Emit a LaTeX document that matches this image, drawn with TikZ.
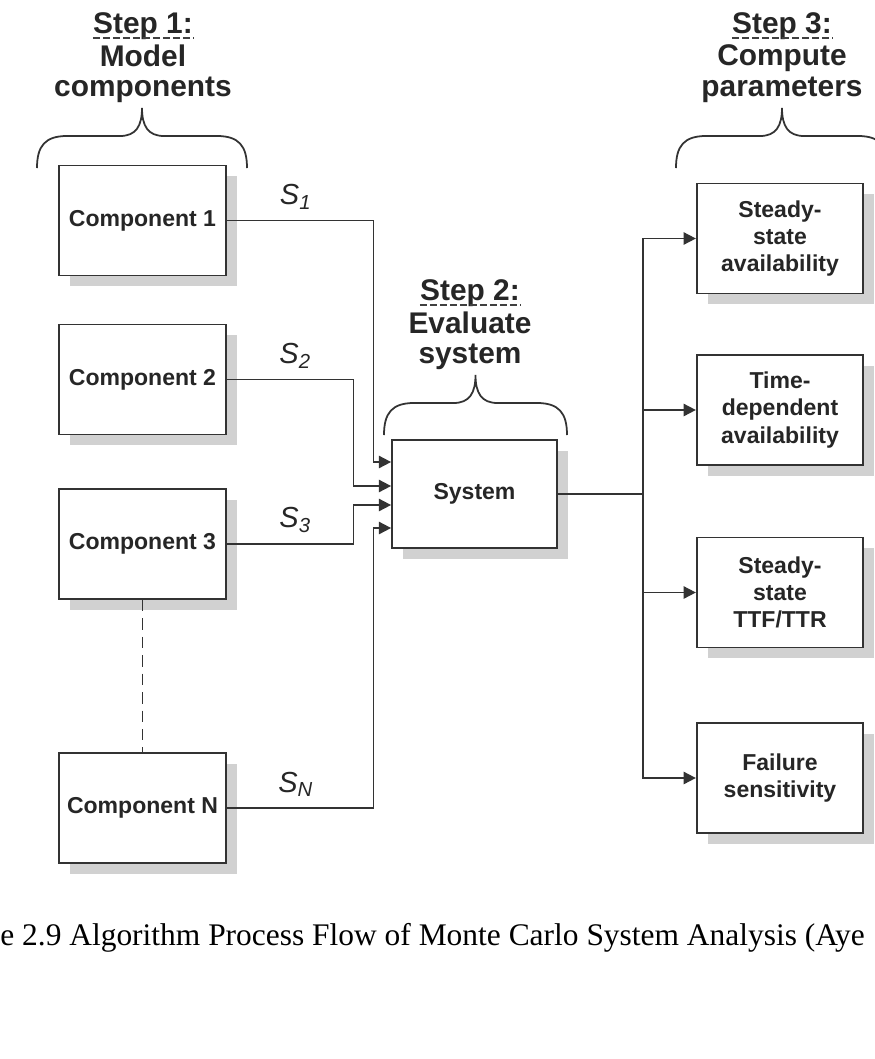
\documentclass[tikz,border=0pt]{standalone}
\usepackage{fontspec}
\setmainfont{Liberation Serif}
\setsansfont{Liberation Sans}
\usetikzlibrary{positioning, arrows.meta, shadows, calc}

% curly brace over a step: left x, right x, foot y (pixel units)
\newcommand{\stepbrace}[3]{%
  \draw[bracepath] (#1,#3) .. controls (#1,#3-22) and (#1+8,#3-32) .. (#1+30,#3-32)
    -- ({(#1+#2)/2-22},#3-32) .. controls ({(#1+#2)/2-6},#3-32) and ({(#1+#2)/2},#3-42) .. ({(#1+#2)/2},#3-60)
    .. controls ({(#1+#2)/2},#3-42) and ({(#1+#2)/2+6},#3-32) .. ({(#1+#2)/2+22},#3-32)
    -- (#2-30,#3-32) .. controls (#2-8,#3-32) and (#2,#3-22) .. (#2,#3);%
}

\begin{document}
\begin{tikzpicture}[x=0.02cm, y=-0.02cm,
    box/.style={draw=black!80, line width=1pt, fill=white, inner sep=2pt,
        minimum width=3.33cm, minimum height=2.2cm, align=center, text=black!85,
        font=\sffamily\bfseries\fontsize{13.1}{15.4}\selectfont,
        drop shadow={shadow xshift=6.2pt, shadow yshift=-6.2pt, fill=black!18, opacity=1}},
    steptitle/.style={inner sep=0pt, align=center, text=black!85,
        font=\sffamily\bfseries\fontsize{17}{17.6}\selectfont},
    uline/.style={black!75, line width=0.8pt, dash pattern=on 4pt off 1.7pt},
    bracepath/.style={black!80, line width=1pt},
    sig/.style={black!80, line width=1pt},
    arrowline/.style={sig, -{Triangle[length=7pt, width=7pt]}},
    slabel/.style={inner sep=0pt, above=6pt, text=black!85,
        font=\sffamily\itshape\fontsize{16.5}{18}\selectfont},
    dots/.style={black!80, line width=0.9pt, dash pattern=on 6.5pt off 4pt},
    caption/.style={inner sep=0pt, font=\fontsize{17.9}{20}\selectfont}]
    \path[use as bounding box, fill=white] (0,0) rectangle (875,1059);

    % Step headings
    \node[steptitle, anchor=base] (h1) at (143,33) {Step 1:};
    \node[steptitle, anchor=north] (n1) at ($(h1.base)+(0,11)$) {Model\\components};
    \node[steptitle, anchor=base] (h2) at (470,300) {Step 2:};
    \node[steptitle, anchor=north] (n2) at ($(h2.base)+(0,11)$) {Evaluate\\system};
    \node[steptitle, anchor=base] (h3) at (782,33) {Step 3:};
    \node[steptitle, anchor=north] (n3) at ($(h3.base)+(0,11)$) {Compute\\parameters};
    \foreach \h in {h1,h2,h3}
        \draw[uline] ($(\h.base west)+(0,5)$) -- ($(\h.base east)+(0,5)$);

    % Braces
    \stepbrace{37}{247}{168}
    \stepbrace{384}{567}{435}
    \stepbrace{676}{888}{168}

    % Components
    \node[box] (c1) at (142.5,220.5) {Component 1};
    \node[box] (c2) at (142.5,379.5) {Component 2};
    \node[box] (c3) at (142.5,544) {Component 3};
    \node[box] (cN) at (142.5,808) {Component N};
    \draw[dots] (c3.south) -- (cN.north);

    % System
    \node[box, minimum width=3.3cm, minimum height=2.16cm] (sys) at (474.5,494) {System};

    % Parameters
    \node[box] (r1) at (780,238.5) {Steady-\\state\\availability};
    \node[box] (r2) at (780,410) {Time-\\dependent\\availability};
    \node[box] (r3) at (780,592.5) {Steady-\\state\\TTF/TTR};
    \node[box] (r4) at (780,778) {Failure\\sensitivity};

    % Signals into the system
    \draw[arrowline] (c1.east) -- node[slabel, pos=0.47] {S\textsubscript{1}} ++(147,0)
        |- ($(sys.west)+(0,-32)$);
    \draw[arrowline] (c2.east) -- node[slabel, pos=0.54] {S\textsubscript{2}} ++(127,0)
        |- ($(sys.west)+(0,-8)$);
    \draw[arrowline] (c3.east) -- node[slabel, pos=0.54] {S\textsubscript{3}} ++(127,0)
        |- ($(sys.west)+(0,11)$);
    \draw[arrowline] (cN.east) -- node[slabel, pos=0.47] {S\textsubscript{N}} ++(147,0)
        |- ($(sys.west)+(0,34)$);

    % System out to parameters
    \draw[sig] (sys.east) -- ++(85,0) coordinate (trunk);
    \foreach \r in {r1,r2,r3,r4}
        \draw[arrowline] (trunk) |- (\r.west);

    % Caption
    \node[caption, anchor=base west] (cap) at (0,945)
        {e 2.9 Algorithm Process Flow of Monte Carlo System Analysis (Aye};
\end{tikzpicture}
\end{document}
